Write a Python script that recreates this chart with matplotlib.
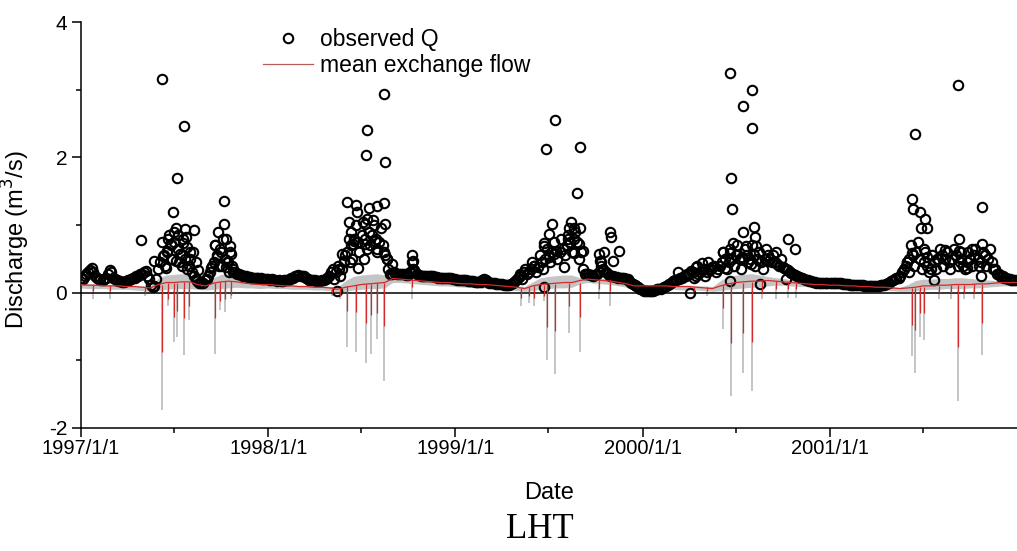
import matplotlib

matplotlib.use("Agg")
import matplotlib.pyplot as plt
import matplotlib.dates as mdates
from matplotlib.lines import Line2D
from matplotlib.ticker import MultipleLocator, FuncFormatter
import numpy as np
import pandas as pd

plt.rcParams["axes.unicode_minus"] = False

YEARS = [1997, 1998, 1999, 2000, 2001]

# observed discharge (m3/s), one reading per week starting 1 January
Q_WEEKLY_1997 = [0.22, 0.25, 0.30, 0.36, 0.25, 0.20, 0.18, 0.22, 0.34, 0.22, 0.18, 0.17, 0.16,
                 0.18, 0.20, 0.22, 0.25, 0.28, 0.32, 0.20, 0.08, 0.20, 0.45, 0.55, 0.60, 0.70,
                 0.75, 0.65, 0.55, 0.50, 0.40, 0.30, 0.20, 0.15, 0.15, 0.20, 0.30, 0.45, 0.55,
                 0.60, 0.50, 0.45, 0.40, 0.30, 0.27, 0.25, 0.24, 0.23, 0.22, 0.22, 0.21, 0.20]
Q_WEEKLY_1998 = [0.20, 0.20, 0.18, 0.18, 0.17, 0.18, 0.20, 0.22, 0.25, 0.25, 0.24, 0.20, 0.18,
                 0.18, 0.17, 0.18, 0.20, 0.25, 0.35, 0.30, 0.25, 0.45, 0.60, 0.70, 0.80, 0.75,
                 0.85, 0.80, 0.90, 0.85, 0.80, 0.75, 0.70, 0.50, 0.28, 0.30, 0.28, 0.27, 0.27,
                 0.26, 0.45, 0.30, 0.26, 0.25, 0.25, 0.24, 0.24, 0.23, 0.22, 0.22, 0.21, 0.21]
Q_WEEKLY_1999 = [0.20, 0.19, 0.18, 0.18, 0.17, 0.17, 0.16, 0.16, 0.20, 0.16, 0.15, 0.14, 0.13,
                 0.13, 0.12, 0.12, 0.14, 0.18, 0.25, 0.30, 0.28, 0.35, 0.40, 0.38, 0.45, 0.50,
                 0.55, 0.60, 0.62, 0.60, 0.65, 0.70, 0.75, 0.80, 0.75, 0.60, 0.28, 0.27, 0.26,
                 0.26, 0.30, 0.35, 0.30, 0.25, 0.24, 0.23, 0.22, 0.21, 0.20, 0.15, 0.12, 0.08]
Q_WEEKLY_2000 = [0.04, 0.03, 0.02, 0.03, 0.05, 0.06, 0.08, 0.12, 0.15, 0.18, 0.20, 0.22, 0.25,
                 0.28, 0.30, 0.25, 0.30, 0.35, 0.30, 0.35, 0.40, 0.35, 0.45, 0.50, 0.45, 0.50,
                 0.55, 0.50, 0.50, 0.55, 0.50, 0.55, 0.50, 0.45, 0.50, 0.55, 0.45, 0.45, 0.40,
                 0.38, 0.35, 0.30, 0.28, 0.25, 0.22, 0.20, 0.18, 0.17, 0.16, 0.15, 0.15, 0.14]
Q_WEEKLY_2001 = [0.15, 0.15, 0.14, 0.14, 0.13, 0.13, 0.12, 0.12, 0.11, 0.11, 0.10, 0.10, 0.10,
                 0.10, 0.11, 0.12, 0.14, 0.17, 0.20, 0.22, 0.30, 0.40, 0.50, 0.55, 0.60, 0.50,
                 0.45, 0.40, 0.35, 0.45, 0.50, 0.55, 0.50, 0.45, 0.50, 0.55, 0.45, 0.40, 0.45,
                 0.50, 0.55, 0.50, 0.45, 0.55, 0.50, 0.45, 0.35, 0.28, 0.24, 0.22, 0.20, 0.19]

# second reading of each week (mid-week)
Q_MIDWEEK_1997 = [0.20, 0.27, 0.33, 0.30, 0.22, 0.19, 0.20, 0.28, 0.30, 0.20, 0.17, 0.16, 0.17,
                  0.19, 0.21, 0.24, 0.27, 0.30, 0.25, 0.12, 0.10, 0.35, 0.75, 0.40, 0.85, 0.50,
                  0.95, 0.45, 0.80, 0.35, 0.60, 0.25, 0.17, 0.14, 0.18, 0.25, 0.40, 0.70, 0.40,
                  0.80, 0.38, 0.60, 0.30, 0.28, 0.26, 0.24, 0.23, 0.22, 0.22, 0.21, 0.20, 0.20]
Q_MIDWEEK_1998 = [0.19, 0.19, 0.17, 0.17, 0.18, 0.19, 0.21, 0.24, 0.26, 0.24, 0.22, 0.19, 0.18,
                  0.17, 0.17, 0.19, 0.22, 0.30, 0.20, 0.40, 0.35, 0.55, 0.80, 0.50, 1.00, 0.60,
                  1.05, 0.65, 0.70, 1.00, 0.60, 0.95, 0.55, 0.35, 0.27, 0.29, 0.27, 0.27, 0.26,
                  0.30, 0.35, 0.27, 0.25, 0.25, 0.24, 0.24, 0.23, 0.22, 0.22, 0.21, 0.21, 0.20]
Q_MIDWEEK_1999 = [0.19, 0.18, 0.18, 0.17, 0.17, 0.16, 0.16, 0.18, 0.17, 0.15, 0.14, 0.13, 0.13,
                  0.12, 0.12, 0.13, 0.16, 0.22, 0.20, 0.35, 0.30, 0.45, 0.30, 0.55, 0.35, 0.65,
                  0.45, 0.75, 0.50, 0.80, 0.55, 0.85, 0.60, 0.90, 0.50, 0.35, 0.27, 0.26, 0.25,
                  0.28, 0.45, 0.60, 0.27, 0.24, 0.23, 0.22, 0.21, 0.20, 0.17, 0.13, 0.10, 0.06]
Q_MIDWEEK_2000 = [0.03, 0.02, 0.03, 0.04, 0.05, 0.07, 0.10, 0.13, 0.17, 0.19, 0.21, 0.24, 0.27,
                  0.32, 0.22, 0.28, 0.33, 0.25, 0.33, 0.38, 0.30, 0.40, 0.60, 0.35, 0.65, 0.40,
                  0.70, 0.35, 0.65, 0.45, 0.70, 0.40, 0.60, 0.35, 0.65, 0.50, 0.55, 0.42, 0.50,
                  0.36, 0.33, 0.29, 0.26, 0.23, 0.21, 0.19, 0.17, 0.16, 0.15, 0.15, 0.14, 0.14]
Q_MIDWEEK_2001 = [0.15, 0.14, 0.14, 0.13, 0.13, 0.12, 0.12, 0.11, 0.11, 0.10, 0.10, 0.10, 0.10,
                  0.10, 0.11, 0.13, 0.15, 0.18, 0.21, 0.25, 0.35, 0.45, 0.70, 0.40, 0.75, 0.35,
                  0.60, 0.30, 0.55, 0.35, 0.65, 0.40, 0.60, 0.35, 0.65, 0.40, 0.60, 0.35, 0.60,
                  0.40, 0.65, 0.40, 0.60, 0.40, 0.65, 0.35, 0.27, 0.23, 0.21, 0.20, 0.19, 0.18]

# scattered wet-season readings: day of year and discharge
Q_EXTRA_DOY_1997 = [117, 158, 200, 187, 180, 182, 202, 221, 204, 199, 176, 219, 168, 159, 142,
                    165, 186, 193, 206, 224, 228, 279, 278, 291, 271, 293, 266, 285, 254, 296,
                    170, 175, 190, 197, 213, 262, 268, 275, 283, 288]
Q_EXTRA_1997 = [0.78, 3.16, 2.47, 1.70, 1.19, 0.89, 0.94, 0.93, 0.82, 0.74, 0.72, 0.60, 0.62,
                0.54, 0.47, 0.37, 0.47, 0.57, 0.67, 0.45, 0.33, 1.36, 1.02, 0.69, 0.64, 0.57,
                0.52, 0.45, 0.37, 0.35, 0.80, 0.50, 0.85, 0.40, 0.50, 0.70, 0.90, 0.40, 0.80, 0.30]
Q_EXTRA_DOY_1998 = [153, 172, 173, 196, 212, 226, 157, 228, 189, 193, 204, 162, 168, 165, 189,
                    209, 212, 186, 225, 232, 144, 147, 138, 159, 176, 241, 281, 282, 284, 134,
                    226, 193, 191, 228]
Q_EXTRA_1998 = [1.34, 1.30, 1.19, 1.25, 1.28, 1.32, 1.04, 1.01, 1.01, 1.09, 1.07, 0.89, 0.77,
                0.72, 0.72, 0.77, 0.65, 0.50, 0.60, 0.50, 0.57, 0.47, 0.35, 0.45, 0.37, 0.42,
                0.55, 0.47, 0.33, 0.03, 2.94, 2.41, 2.04, 1.93]
Q_EXTRA_DOY_1999 = [238, 188, 183, 173, 172, 225, 222, 243, 232, 220, 241, 248, 193, 183, 154,
                    126, 173, 212, 232, 280, 281, 283, 302, 303, 319, 308, 60, 195, 177, 243]
Q_EXTRA_1999 = [1.47, 1.01, 0.87, 0.74, 0.69, 1.04, 0.96, 0.96, 0.96, 0.79, 0.72, 0.62, 0.57,
                0.52, 0.40, 0.27, 0.08, 0.38, 0.59, 0.57, 0.47, 0.40, 0.89, 0.82, 0.62, 0.47,
                0.19, 2.55, 2.13, 2.16]
Q_EXTRA_DOY_2000 = [175, 196, 217, 219, 177, 202, 222, 157, 170, 128, 105, 69, 284, 298, 261,
                    245, 193, 160, 212, 170, 92, 228, 280, 107, 115, 171, 214, 195, 214, 173]
Q_EXTRA_2000 = [1.24, 0.89, 0.97, 0.82, 0.74, 0.69, 0.69, 0.60, 0.59, 0.46, 0.38, 0.30, 0.79,
                0.65, 0.60, 0.47, 0.52, 0.37, 0.42, 0.17, 0.00, 0.13, 0.20, 0.40, 0.44, 3.25,
                3.00, 2.76, 2.43, 1.70]
Q_EXTRA_DOY_2001 = [160, 162, 175, 184, 176, 188, 296, 250, 250, 296, 277, 223, 182, 160, 150,
                    153, 202, 302, 208, 254, 189, 267, 293, 165, 249]
Q_EXTRA_2001 = [1.38, 1.24, 1.19, 1.09, 0.95, 0.95, 1.27, 0.79, 0.62, 0.72, 0.64, 0.63, 0.64,
                0.58, 0.45, 0.30, 0.18, 0.55, 0.50, 0.50, 0.52, 0.37, 0.25, 2.35, 3.07]

# exchange flow, read on the 1st and 16th of each month
MEAN_1997 = [0.12, 0.11, 0.11, 0.10, 0.10, 0.10, 0.09, 0.09, 0.08, 0.07, 0.12, 0.15,
             0.15, 0.16, 0.16, 0.12, 0.10, 0.14, 0.16, 0.17, 0.16, 0.14, 0.13, 0.12]
MEAN_1998 = [0.12, 0.11, 0.10, 0.10, 0.09, 0.09, 0.08, 0.08, 0.07, 0.05, 0.08, 0.10,
             0.12, 0.13, 0.14, 0.15, 0.21, 0.20, 0.19, 0.18, 0.17, 0.16, 0.15, 0.15]
MEAN_1999 = [0.14, 0.13, 0.13, 0.12, 0.12, 0.11, 0.10, 0.09, 0.08, 0.06, 0.10, 0.12,
             0.13, 0.14, 0.15, 0.15, 0.18, 0.20, 0.19, 0.18, 0.17, 0.15, 0.13, 0.10]
MEAN_2000 = [0.10, 0.10, 0.10, 0.10, 0.09, 0.09, 0.09, 0.08, 0.07, 0.06, 0.10, 0.13,
             0.15, 0.16, 0.17, 0.17, 0.18, 0.17, 0.16, 0.15, 0.14, 0.13, 0.12, 0.12]
MEAN_2001 = [0.11, 0.11, 0.10, 0.10, 0.09, 0.09, 0.08, 0.08, 0.07, 0.06, 0.07, 0.08,
             0.10, 0.10, 0.11, 0.11, 0.12, 0.12, 0.12, 0.13, 0.13, 0.14, 0.15, 0.15]

HIGH_1997 = [0.14, 0.13, 0.13, 0.12, 0.12, 0.12, 0.11, 0.11, 0.10, 0.10, 0.22, 0.26,
             0.27, 0.28, 0.26, 0.18, 0.14, 0.22, 0.27, 0.28, 0.20, 0.16, 0.15, 0.14]
HIGH_1998 = [0.14, 0.13, 0.12, 0.12, 0.11, 0.11, 0.10, 0.10, 0.09, 0.08, 0.18, 0.24,
             0.26, 0.27, 0.28, 0.26, 0.24, 0.22, 0.21, 0.20, 0.19, 0.18, 0.17, 0.17]
HIGH_1999 = [0.16, 0.15, 0.15, 0.14, 0.14, 0.13, 0.12, 0.11, 0.10, 0.09, 0.16, 0.22,
             0.24, 0.25, 0.26, 0.26, 0.22, 0.23, 0.22, 0.21, 0.20, 0.18, 0.15, 0.12]
HIGH_2000 = [0.12, 0.12, 0.12, 0.12, 0.11, 0.11, 0.11, 0.10, 0.10, 0.09, 0.18, 0.24,
             0.26, 0.27, 0.28, 0.26, 0.24, 0.22, 0.21, 0.19, 0.17, 0.15, 0.14, 0.14]
HIGH_2001 = [0.13, 0.13, 0.12, 0.12, 0.11, 0.11, 0.10, 0.10, 0.09, 0.08, 0.12, 0.18,
             0.20, 0.20, 0.21, 0.21, 0.22, 0.22, 0.21, 0.20, 0.19, 0.18, 0.17, 0.17]

LOW_1997 = [0.07, 0.06, 0.06, 0.06, 0.05, 0.05, 0.05, 0.04, 0.03, 0.02, 0.03, 0.05,
            0.06, 0.06, 0.06, 0.05, 0.04, 0.05, 0.06, 0.07, 0.08, 0.07, 0.07, 0.06]
LOW_1998 = [0.07, 0.06, 0.06, 0.05, 0.05, 0.05, 0.04, 0.04, 0.03, 0.01, 0.02, 0.04,
            0.05, 0.06, 0.06, 0.07, 0.15, 0.15, 0.14, 0.13, 0.12, 0.11, 0.10, 0.10]
LOW_1999 = [0.09, 0.08, 0.08, 0.07, 0.07, 0.06, 0.05, 0.04, 0.03, 0.02, 0.03, 0.05,
            0.06, 0.07, 0.07, 0.08, 0.13, 0.15, 0.14, 0.13, 0.12, 0.10, 0.08, 0.06]
LOW_2000 = [0.06, 0.06, 0.06, 0.05, 0.05, 0.04, 0.04, 0.04, 0.03, 0.02, 0.03, 0.05,
            0.06, 0.07, 0.08, 0.08, 0.10, 0.11, 0.11, 0.10, 0.09, 0.09, 0.08, 0.08]
LOW_2001 = [0.06, 0.06, 0.05, 0.05, 0.05, 0.04, 0.04, 0.03, 0.03, 0.02, 0.02, 0.03,
            0.04, 0.05, 0.05, 0.06, 0.06, 0.06, 0.07, 0.07, 0.08, 0.09, 0.10, 0.10]

# values at the right edge (2002/1/1)
END_MEAN, END_HIGH, END_LOW = 0.15, 0.17, 0.10

# sharp negative exchange events: top of the spike, mean minimum, envelope minimum
SPIKE_DATES = ["1997-01-24", "1997-02-26", "1997-05-06", "1997-06-07", "1997-06-19",
               "1997-07-01", "1997-07-07", "1997-07-21", "1997-07-31", "1997-09-19",
               "1997-09-29", "1997-10-08", "1997-10-21",
               "1998-05-05", "1998-05-21", "1998-06-03", "1998-06-22", "1998-07-11",
               "1998-07-21", "1998-08-01", "1998-08-14", "1998-10-09",
               "1999-05-09", "1999-05-25", "1999-06-04", "1999-06-22", "1999-06-29",
               "1999-07-15", "1999-08-11", "1999-09-01", "1999-10-08", "1999-10-30",
               "2000-04-10", "2000-05-05", "2000-06-06", "2000-06-21", "2000-07-15",
               "2000-08-02", "2000-08-20", "2000-09-18", "2000-10-11", "2000-10-27",
               "2001-06-10", "2001-06-16", "2001-06-25", "2001-07-02", "2001-08-01",
               "2001-08-24", "2001-09-07", "2001-09-18", "2001-10-08", "2001-10-24"]
SPIKE_TOP = [0.11, 0.11, 0.08, 0.12, 0.15, 0.15, 0.15, 0.16, 0.16, 0.14, 0.16, 0.17, 0.17,
             0.08, 0.06, 0.10, 0.12, 0.13, 0.13, 0.14, 0.15, 0.18,
             0.07, 0.08, 0.10, 0.12, 0.12, 0.13, 0.14, 0.15, 0.19, 0.18,
             0.09, 0.09, 0.12, 0.14, 0.15, 0.16, 0.17, 0.17, 0.16, 0.15,
             0.07, 0.07, 0.08, 0.08, 0.10, 0.11, 0.12, 0.12, 0.13, 0.13]
SPIKE_MEAN = [0.02, 0.02, 0.00, -0.88, -0.10, -0.36, -0.27, -0.38, -0.20, -0.38, -0.12, -0.10, -0.04,
              0.00, -0.05, -0.27, -0.29, -0.45, -0.33, -0.30, -0.50, 0.08,
              -0.08, -0.05, -0.08, -0.05, -0.51, -0.56, -0.20, -0.36, 0.05, 0.02,
              0.02, 0.02, -0.22, -0.75, -0.60, -0.73, 0.00, 0.05, 0.05, 0.05,
              -0.48, -0.55, -0.30, -0.30, 0.00, 0.00, -0.81, 0.00, 0.00, -0.45]
SPIKE_MIN = [-0.10, -0.10, -0.05, -1.73, -0.20, -0.73, -0.66, -0.92, -0.41, -0.90, -0.25, -0.28, -0.10,
             -0.05, -0.10, -0.81, -0.88, -1.04, -0.90, -0.68, -1.30, -0.10,
             -0.19, -0.15, -0.19, -0.12, -0.99, -1.20, -0.60, -0.88, -0.10, -0.20,
             -0.05, -0.05, -0.54, -1.52, -1.19, -1.45, -0.10, -0.10, -0.08, -0.08,
             -0.93, -1.19, -0.65, -0.70, -0.10, -0.10, -1.60, -0.10, -0.10, -0.92]

Q_WEEKLY = [Q_WEEKLY_1997, Q_WEEKLY_1998, Q_WEEKLY_1999, Q_WEEKLY_2000, Q_WEEKLY_2001]
Q_MIDWEEK = [Q_MIDWEEK_1997, Q_MIDWEEK_1998, Q_MIDWEEK_1999, Q_MIDWEEK_2000, Q_MIDWEEK_2001]
Q_EXTRA_DOY = [Q_EXTRA_DOY_1997, Q_EXTRA_DOY_1998, Q_EXTRA_DOY_1999, Q_EXTRA_DOY_2000, Q_EXTRA_DOY_2001]
Q_EXTRA = [Q_EXTRA_1997, Q_EXTRA_1998, Q_EXTRA_1999, Q_EXTRA_2000, Q_EXTRA_2001]
MEAN = [MEAN_1997, MEAN_1998, MEAN_1999, MEAN_2000, MEAN_2001]
HIGH = [HIGH_1997, HIGH_1998, HIGH_1999, HIGH_2000, HIGH_2001]
LOW = [LOW_1997, LOW_1998, LOW_1999, LOW_2000, LOW_2001]

RED = "#d42a2a"
GREY = "#c4c4c4"
SANS = "Liberation Sans"

# --- assemble the series ---
q_dates, q_vals = [], []
for year, weekly, mid, doy, extra in zip(YEARS, Q_WEEKLY, Q_MIDWEEK, Q_EXTRA_DOY, Q_EXTRA):
    start = pd.Timestamp(f"{year}-01-01")
    q_dates.extend(pd.date_range(start, periods=len(weekly), freq="7D"))
    q_vals.extend(weekly)
    q_dates.extend(pd.date_range(start + pd.Timedelta(days=3), periods=len(mid), freq="7D"))
    q_vals.extend(mid)
    q_dates.extend(start + pd.to_timedelta(doy, unit="D"))
    q_vals.extend(extra)

ex_dates = []
for year in YEARS:
    ex_dates.extend(pd.to_datetime([f"{year}-{m:02d}-{d:02d}" for m in range(1, 13) for d in (1, 16)]))
ex_dates.append(pd.Timestamp("2002-01-01"))
ex_mean = np.concatenate(MEAN + [[END_MEAN]])
ex_high = np.concatenate(HIGH + [[END_HIGH]])
ex_low = np.concatenate(LOW + [[END_LOW]])
spike_dates = pd.to_datetime(SPIKE_DATES)

# --- figure ---
fig = plt.figure(figsize=(10.17, 5.51), dpi=100)
ax = fig.add_axes([81 / 1017, 1 - 428 / 551, (1017 - 81) / 1017, (428 - 22) / 551])

ax.plot(q_dates, q_vals, "o", ms=6.8, mfc="none", mec="black", mew=1.5, zorder=2)

ax.fill_between(ex_dates, ex_low, ex_high, color=GREY, lw=0, zorder=1.5)
ax.vlines(spike_dates, SPIKE_TOP, SPIKE_MIN, color=GREY, lw=1.4, zorder=1.6)
ax.plot(ex_dates, ex_mean, color=RED, lw=0.9, zorder=3)
ax.vlines(spike_dates, SPIKE_TOP, SPIKE_MEAN, color=RED, lw=0.9, zorder=3)
ax.axhline(0, color="black", lw=1.1, zorder=2.5)

ax.set_xlim(pd.Timestamp("1997-01-01"), pd.Timestamp("2001-12-31"))
ax.set_ylim(-2, 4)
ax.yaxis.set_major_locator(MultipleLocator(2))
ax.yaxis.set_minor_locator(MultipleLocator(1))
ax.xaxis.set_major_locator(mdates.YearLocator())
ax.xaxis.set_minor_locator(mdates.MonthLocator(bymonth=7))
ax.xaxis.set_major_formatter(FuncFormatter(
    lambda v, pos: f"{mdates.num2date(v).year}/{mdates.num2date(v).month}/{mdates.num2date(v).day}"))

for side in ("top", "right"):
    ax.spines[side].set_visible(False)
for side in ("left", "bottom"):
    ax.spines[side].set_linewidth(1.1)

ax.tick_params(which="major", direction="out", length=6.5, width=1.1)
ax.tick_params(which="minor", direction="out", length=3.6, width=1.1)
ax.tick_params(axis="x", which="major", labelsize=14.5, pad=1.5)
ax.tick_params(axis="y", which="major", labelsize=15, pad=3.5)
for lab in ax.get_xticklabels() + ax.get_yticklabels():
    lab.set_family(SANS)

ax.set_ylabel("Discharge (m$^3$/s)", fontsize=17, family=SANS)
ax.yaxis.set_label_coords(-0.052, 0.463)
fig.text(549 / 1017, 1 - 493 / 551, "Date", fontsize=17, family=SANS, ha="center", va="center")
fig.text(540 / 1017, 1 - 530 / 551, "LHT", fontsize=25, family="Liberation Serif",
         ha="center", va="center")

handles = [
    Line2D([], [], ls="none", marker="o", ms=6.8, mfc="none", mec="black", mew=1.5),
    Line2D([], [], color="#b85a5a", lw=0.9),
]
ax.legend(handles, ["observed Q", "mean exchange flow"], loc="upper left",
          bbox_to_anchor=(263 / 1017, 1 - 28 / 551), bbox_transform=fig.transFigure,
          frameon=False, borderpad=0, borderaxespad=0, handlelength=2.2, handletextpad=0.3,
          labelspacing=0.12, prop={"family": SANS, "size": 16.5})

fig.savefig("out.png", dpi=100, facecolor="white")
